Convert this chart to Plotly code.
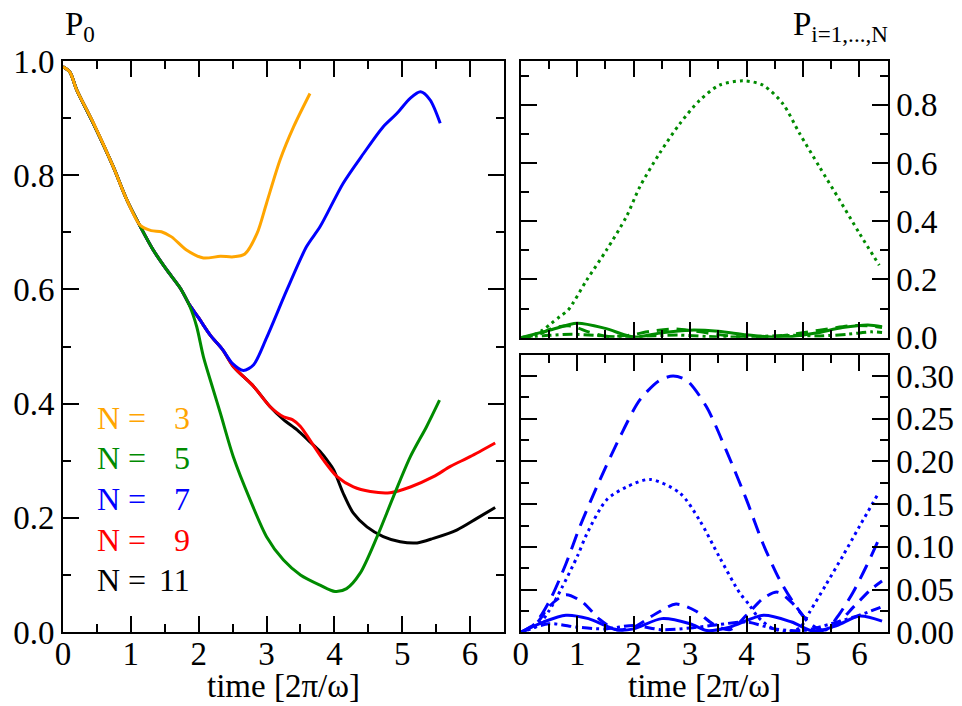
import plotly.graph_objects as go

W, H = 962, 706
FONT = "Liberation Serif, Times New Roman, serif"
ORANGE, GREEN, BLUE, RED, BLACK = "#FFA500", "#008B00", "#0000FF", "#FF0000", "#000000"

# ---------------- left panel: P0(t) ----------------
t_n3 = [0, 0.1, 0.2, 0.45, 0.74, 0.94, 1.14, 1.3, 1.45, 1.6, 1.82, 2.07, 2.32, 2.51, 2.68, 2.86, 3.0, 3.2, 3.4, 3.64]
p_n3 = [0.99, 0.981, 0.95, 0.891, 0.815, 0.757, 0.712, 0.703, 0.701, 0.692, 0.669, 0.655, 0.658, 0.657, 0.662, 0.698, 0.751, 0.827, 0.885, 0.943]

t_n5 = [0, 0.1, 0.2, 0.45, 0.74, 0.94, 1.14, 1.33, 1.53, 1.73, 1.87, 1.97, 2.07, 2.2, 2.32, 2.51, 2.76, 3.0, 3.25, 3.5, 3.79, 4.01, 4.18, 4.38, 4.63, 4.87, 5.12, 5.36, 5.55]
p_n5 = [0.99, 0.981, 0.95, 0.89, 0.815, 0.757, 0.71, 0.669, 0.634, 0.602, 0.57, 0.535, 0.482, 0.43, 0.383, 0.307, 0.231, 0.167, 0.126, 0.100, 0.082, 0.071, 0.076, 0.103, 0.167, 0.237, 0.307, 0.36, 0.406]

t_n7 = [0, 0.1, 0.2, 0.45, 0.74, 0.94, 1.14, 1.33, 1.53, 1.73, 1.87, 2.0, 2.17, 2.35, 2.5, 2.66, 2.81, 3.0, 3.3, 3.59, 3.79, 4.13, 4.43, 4.72, 4.92, 5.12, 5.27, 5.41, 5.56]
p_n7 = [0.99, 0.981, 0.95, 0.89, 0.815, 0.757, 0.71, 0.669, 0.634, 0.602, 0.572, 0.55, 0.52, 0.495, 0.47, 0.458, 0.468, 0.515, 0.599, 0.675, 0.71, 0.786, 0.838, 0.885, 0.908, 0.935, 0.946, 0.932, 0.891]

t_n9 = [0, 0.1, 0.2, 0.45, 0.74, 0.94, 1.14, 1.33, 1.53, 1.73, 1.87, 2.0, 2.17, 2.35, 2.51, 2.81, 3.05, 3.25, 3.38, 3.5, 3.64, 3.84, 4.04, 4.28, 4.53, 4.82, 5.12, 5.46, 5.71, 6.0, 6.37]
p_n9 = [0.99, 0.981, 0.95, 0.89, 0.815, 0.757, 0.71, 0.669, 0.634, 0.602, 0.572, 0.55, 0.52, 0.495, 0.465, 0.430, 0.395, 0.377, 0.372, 0.36, 0.336, 0.301, 0.272, 0.254, 0.246, 0.244, 0.254, 0.272, 0.29, 0.307, 0.331]

t_n11 = [0, 0.1, 0.2, 0.45, 0.74, 0.94, 1.14, 1.33, 1.53, 1.73, 1.87, 2.0, 2.17, 2.35, 2.51, 2.81, 3.05, 3.25, 3.45, 3.64, 3.79, 3.91, 3.99, 4.13, 4.28, 4.48, 4.72, 4.97, 5.22, 5.46, 5.81, 6.10, 6.37]
p_n11 = [0.99, 0.981, 0.95, 0.89, 0.815, 0.757, 0.71, 0.669, 0.634, 0.602, 0.572, 0.55, 0.52, 0.495, 0.465, 0.430, 0.395, 0.372, 0.354, 0.333, 0.316, 0.298, 0.284, 0.243, 0.208, 0.184, 0.167, 0.158, 0.156, 0.164, 0.179, 0.199, 0.218]

legend_labels = ["3", "5", "7", "9", "11"]

# ---------------- top right: site probabilities, N = 5 ----------------
t5_dot = [0, 0.2, 0.39, 0.54, 0.69, 0.84, 1.17, 1.52, 1.87, 2.11, 2.46, 2.82, 3.17, 3.52, 3.94, 4.29, 4.64, 4.94, 5.29, 5.65, 6.0, 6.35]
p5_dot = [0, 0.008, 0.026, 0.049, 0.072, 0.095, 0.198, 0.301, 0.415, 0.518, 0.633, 0.735, 0.815, 0.867, 0.882, 0.867, 0.804, 0.701, 0.587, 0.472, 0.358, 0.249]

t5_sol = [0, 0.5, 1.0, 1.5, 2.0, 2.5, 3.0, 3.5, 4.0, 4.6, 5.2, 5.7, 6.15, 6.4]
p5_sol = [0, 0.025, 0.05, 0.032, 0.002, 0.017, 0.026, 0.022, 0.01, 0.001, 0.015, 0.035, 0.044, 0.038]

t5_dash = [0, 0.3, 0.6, 0.9, 1.2, 1.5, 1.9, 2.3, 2.7, 3.1, 3.6, 4.1, 4.6, 5.1, 5.5, 5.9, 6.2, 6.4]
p5_dash = [0, 0.01, 0.035, 0.04, 0.02, 0.005, 0.008, 0.022, 0.03, 0.022, 0.008, 0.002, 0.006, 0.02, 0.032, 0.042, 0.04, 0.035]

t5_ld = [0, 0.5, 0.9, 1.3, 1.8, 2.3, 2.8, 3.3, 3.8, 4.3, 4.8, 5.3, 5.8, 6.2, 6.4]
p5_ld = [0, 0.008, 0.012, 0.008, 0.002, 0.006, 0.009, 0.004, 0.002, 0.005, 0.008, 0.006, 0.012, 0.02, 0.018]

# ---------------- bottom right: site probabilities, N = 7 ----------------
t7_ld = [0, 0.25, 0.52, 0.8, 1.05, 1.4, 1.76, 2.11, 2.46, 2.7, 2.94, 3.29, 3.64, 4.0, 4.29, 4.59, 4.88, 5.17, 5.41, 5.65, 5.88, 6.12, 6.35]
p7_ld = [0, 0.01, 0.038, 0.08, 0.124, 0.178, 0.229, 0.272, 0.295, 0.30, 0.295, 0.264, 0.213, 0.155, 0.104, 0.061, 0.030, 0.007, 0.003, 0.022, 0.046, 0.077, 0.11]

t7_dot = [0, 0.3, 0.5, 0.72, 1.01, 1.17, 1.52, 1.87, 2.29, 2.82, 3.17, 3.52, 3.88, 4.05, 4.2, 4.45, 4.7, 4.94, 5.12, 5.4, 5.71, 6.0, 6.32]
p7_dot = [0, 0.008, 0.025, 0.051, 0.090, 0.115, 0.155, 0.170, 0.179, 0.163, 0.131, 0.088, 0.046, 0.032, 0.018, 0.005, 0.001, 0.005, 0.024, 0.055, 0.090, 0.124, 0.161]

t7_dash = [0, 0.3, 0.5, 0.8, 1.1, 1.4, 1.7, 2.0, 2.4, 2.75, 3.1, 3.4, 3.7, 4.0, 4.3, 4.55, 4.8, 5.1, 5.35, 5.6, 5.9, 6.2, 6.4]
p7_dash = [0, 0.012, 0.03, 0.044, 0.035, 0.015, 0.003, 0.006, 0.022, 0.033, 0.025, 0.01, 0.003, 0.02, 0.04, 0.047, 0.035, 0.012, 0.002, 0.01, 0.03, 0.05, 0.06]

t7_sol = [0, 0.4, 0.8, 1.2, 1.7, 2.0, 2.5, 3.0, 3.3, 3.7, 4.3, 4.8, 5.2, 5.6, 6.0, 6.4]
p7_sol = [0, 0.012, 0.02, 0.016, 0.003, 0.004, 0.016, 0.01, 0.002, 0.006, 0.02, 0.012, 0.001, 0.008, 0.019, 0.013]

t7_dd = [0, 0.5, 1.0, 1.5, 2.0, 2.5, 3.0, 3.5, 4.0, 4.5, 5.0, 5.5, 6.0, 6.4]
p7_dd = [0, 0.01, 0.006, 0.004, 0.008, 0.003, 0.005, 0.009, 0.012, 0.004, 0.002, 0.01, 0.02, 0.03]

fig = go.Figure()

def line(t, p, color, xa, ya, dash="solid", width=3):
    fig.add_trace(go.Scatter(x=t, y=p, mode="lines", xaxis=xa, yaxis=ya,
                             line=dict(color=color, width=width, dash=dash, shape="spline", smoothing=0.8),
                             showlegend=False, hoverinfo="skip"))

# left
line(t_n11, p_n11, BLACK, "x", "y")
line(t_n9, p_n9, RED, "x", "y")
line(t_n7, p_n7, BLUE, "x", "y")
line(t_n5, p_n5, GREEN, "x", "y")
line(t_n3, p_n3, ORANGE, "x", "y")

# top right
line(t5_ld, p5_ld, GREEN, "x2", "y2", dash="10px,4px,3px,4px")
line(t5_sol, p5_sol, GREEN, "x2", "y2")
line(t5_dash, p5_dash, GREEN, "x2", "y2", dash="12px,8px")
line(t5_dot, p5_dot, GREEN, "x2", "y2", dash="3px,4px")

# bottom right
line(t7_dd, p7_dd, BLUE, "x3", "y3", dash="10px,4px,3px,4px")
line(t7_sol, p7_sol, BLUE, "x3", "y3")
line(t7_dash, p7_dash, BLUE, "x3", "y3", dash="12px,8px")
line(t7_dot, p7_dot, BLUE, "x3", "y3", dash="3px,4px")
line(t7_ld, p7_ld, BLUE, "x3", "y3", dash="16px,9px")

def px_x(v):
    return v / W

def px_y(v):
    return 1 - v / H

tickfont = dict(family=FONT, size=33, color="black")
common = dict(showline=True, linewidth=2, linecolor="black", mirror="ticks",
              ticks="inside", ticklen=16, tickwidth=2, tickcolor="black",
              showgrid=False, zeroline=False, tickfont=tickfont, automargin=False)
minor_x = dict(dtick=0.5, ticks="inside", ticklen=8, tickwidth=2, tickcolor="black", showgrid=False)

L = (63, 504)
R = (520.7, 887.7)
fig.update_layout(
    template="none",
    width=W, height=H, margin=dict(l=0, r=0, t=0, b=0, autoexpand=False),
    paper_bgcolor="white", plot_bgcolor="white",
    font=dict(family=FONT, size=33, color="black"),
    xaxis=dict(domain=[px_x(L[0]), px_x(L[1])], range=[0, 6.5], dtick=1, tick0=0, anchor="y",
               ticklabelstandoff=-9, minor=minor_x, **common),
    yaxis=dict(domain=[px_y(632), px_y(61)], range=[0, 1], dtick=0.2, tick0=0, tickformat=".1f", anchor="x",
               minor=dict(dtick=0.1, ticks="inside", ticklen=8, tickwidth=2, tickcolor="black", showgrid=False),
               **common),
    xaxis2=dict(domain=[px_x(R[0]), px_x(R[1])], range=[0, 6.5], dtick=1, tick0=0, anchor="y2",
                showticklabels=False, minor=minor_x, **common),
    yaxis2=dict(domain=[px_y(337.7), px_y(61)], range=[0, 0.95], dtick=0.2, tick0=0, tickformat=".1f",
                anchor="x2", side="right",
                minor=dict(dtick=0.1, ticks="inside", ticklen=8, tickwidth=2, tickcolor="black", showgrid=False),
                **common),
    xaxis3=dict(domain=[px_x(R[0]), px_x(R[1])], range=[0, 6.5], dtick=1, tick0=0, anchor="y3",
                ticklabelstandoff=-9, minor=minor_x, **common),
    yaxis3=dict(domain=[px_y(632.3), px_y(354.7)], range=[0, 0.325], dtick=0.05, tick0=0, tickformat=".2f",
                anchor="x3", side="right",
                minor=dict(dtick=0.025, ticks="inside", ticklen=8, tickwidth=2, tickcolor="black", showgrid=False),
                **common),
)

ann = []
def text(x, y, s, color="black", size=33, xanchor="center", yanchor="middle"):
    ann.append(dict(x=px_x(x), y=px_y(y), xref="paper", yref="paper", text=s, showarrow=False,
                    xanchor=xanchor, yanchor=yanchor, font=dict(family=FONT, size=size, color=color)))

text(283.5, 686, "time [2π/ω]")
text(704, 686, "time [2π/ω]")
text(63, 27, "P<sub>0</sub>", xanchor="left")
text(890, 27, "P<sub>i=1,...,N</sub>", xanchor="right")

leg_colors = [ORANGE, GREEN, BLUE, RED, BLACK]
leg_y = [418, 458.5, 499, 539.5, 580]
for lab, c, yy in zip(legend_labels, leg_colors, leg_y):
    text(95, yy, "N =", color=c, size=32, xanchor="left")
    text(192, yy, lab, color=c, size=32, xanchor="right")

fig.update_layout(annotations=ann)
fig.write_html("out.html", config={"displayModeBar": False},
               post_script="document.body.style.margin='0px';document.body.style.overflow='hidden';")
